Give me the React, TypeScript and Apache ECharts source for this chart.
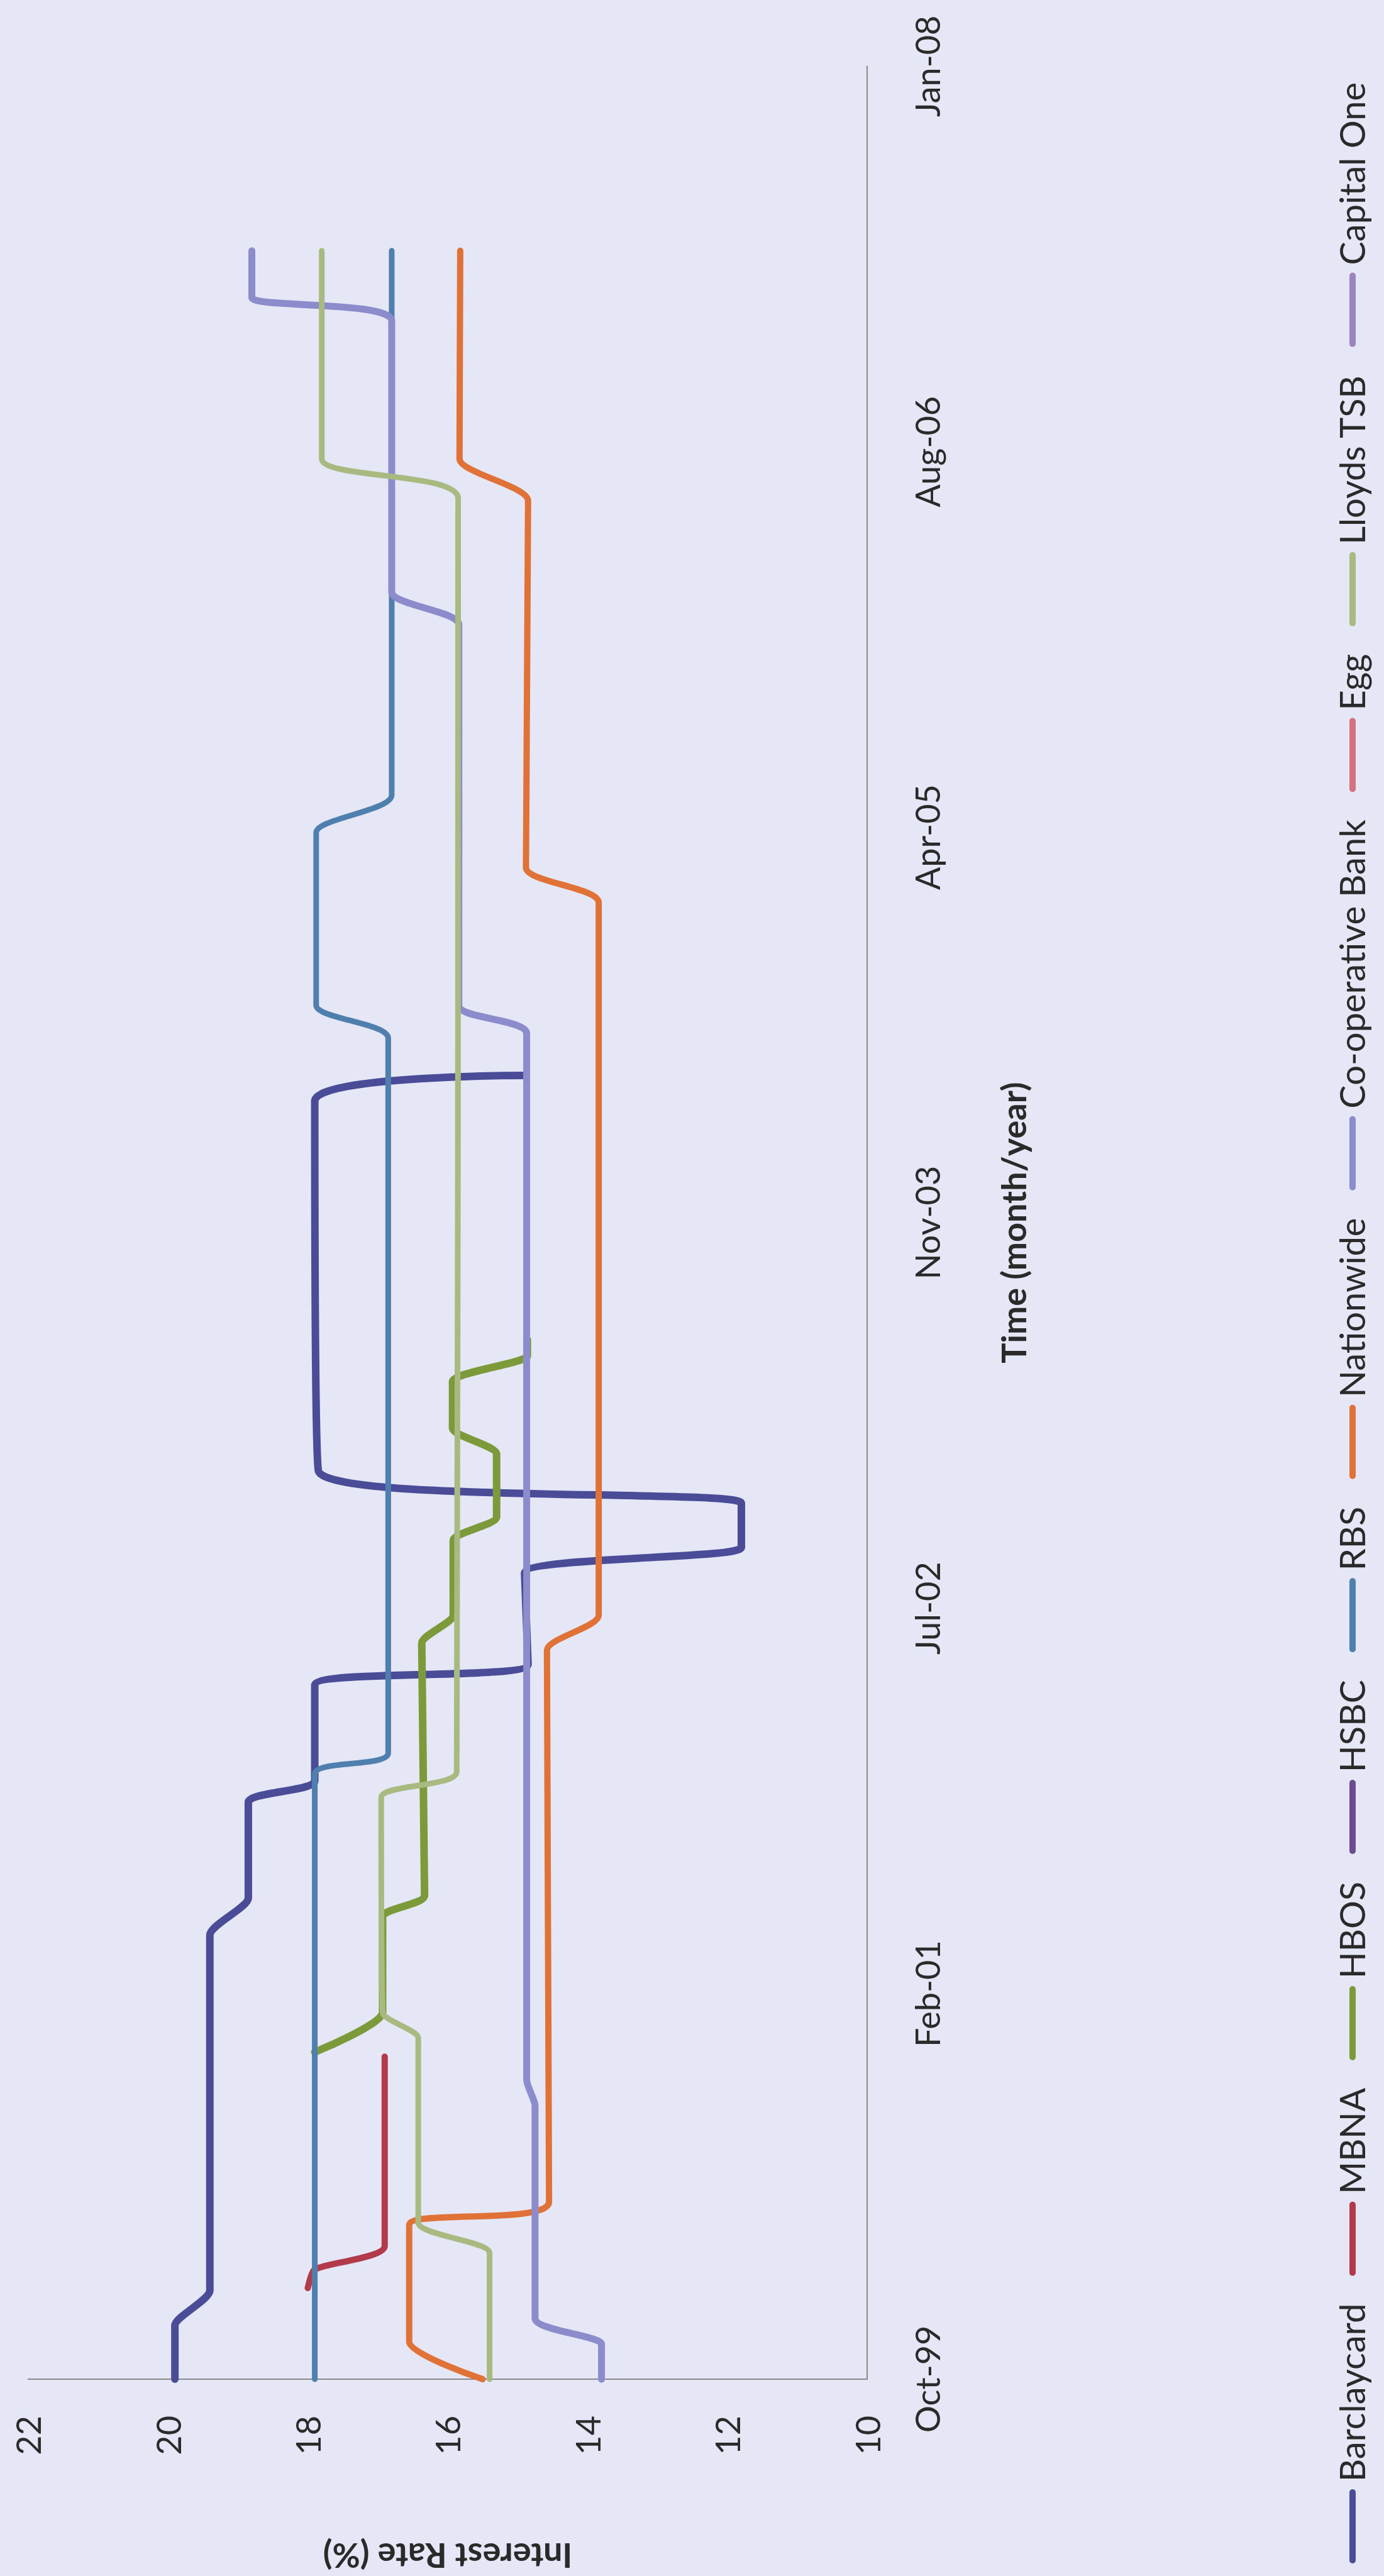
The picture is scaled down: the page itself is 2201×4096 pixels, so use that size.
import React, { useEffect, useRef } from 'react';
import * as echarts from 'echarts';

// ---------- DATA (months since Oct-1999, interest rate %) ----------
const TIME_LABELS = ['Oct-99', 'Feb-01', 'Jul-02', 'Nov-03', 'Apr-05', 'Aug-06', 'Jan-08'];
const RATE_MIN = 10;
const RATE_MAX = 22;
const RATE_STEP = 2;
const TIME_MAX = 99;
const TIME_STEP = 16.5;

const SERIES_NAMES = [
  'Barclaycard', 'MBNA', 'HBOS', 'HSBC', 'RBS', 'Nationwide',
  'Co-operative Bank', 'Egg', 'Lloyds TSB', 'Capital One',
];

const barclaycard = [
  [0, 19.9], [2.3, 19.9], [3.8, 19.4], [19.0, 19.4], [20.6, 18.85], [24.7, 18.85],
  [25.6, 17.9], [29.7, 17.9], [30.6, 14.85], [34.5, 14.9], [35.6, 11.8], [37.5, 11.8],
  [38.9, 17.85], [54.7, 17.9], [55.8, 14.9],
];
const mbna = [[3.9, 18.0], [4.7, 17.9], [5.7, 16.9], [13.8, 16.9]];
const hbos = [
  [14.0, 17.9], [15.7, 16.93], [19.8, 16.93], [20.7, 16.33], [31.5, 16.37], [32.7, 15.92],
  [35.9, 15.92], [36.9, 15.3], [39.6, 15.3], [40.7, 15.93], [42.7, 15.93], [43.8, 14.86],
  [44.5, 14.86],
];
const hsbc = [];
const rbs = [
  [0, 17.9], [25.9, 17.9], [26.8, 16.85], [57.4, 16.85], [58.8, 17.88], [66.2, 17.88],
  [67.8, 16.8], [91.1, 16.8],
];
const nationwide = [
  [0, 15.5], [1.6, 16.55], [6.6, 16.55], [7.6, 14.55], [31.2, 14.58], [32.7, 13.84],
  [63.2, 13.84], [64.7, 14.88], [80.4, 14.85], [82.2, 15.83], [91.1, 15.82],
];
const coop = [
  [0, 13.8], [1.5, 13.8], [2.6, 14.75], [11.7, 14.75], [12.8, 14.87], [57.6, 14.87],
  [58.8, 15.84], [75.1, 15.84], [76.5, 16.8], [88.1, 16.8], [89.1, 18.8], [91.1, 18.8],
];
const egg = [];
const lloyds = [
  [0, 15.4], [5.4, 15.4], [6.7, 16.42], [14.6, 16.42], [15.7, 16.93], [24.9, 16.95],
  [26.0, 15.87], [80.5, 15.85], [82.2, 17.8], [91.1, 17.8],
];
const capitalOne = [];

const SERIES_DATA = [barclaycard, mbna, hbos, hsbc, rbs, nationwide, coop, egg, lloyds, capitalOne];

// ---------- STYLE ----------
const COLORS = [
  '#4A4C98', '#B23A4A', '#7D9A3A', '#6E4A90', '#4F7FAE', '#E07238',
  '#8C8BCB', '#D4707F', '#A9BA80', '#9C84BE',
];
const WIDTHS = [12, 10, 12, 10, 9, 10, 11, 10, 9, 10];
const BG = '#E5E7F7';
const TEXT = '#2a2a2a';
const FONT = 'Lato, "Open Sans", sans-serif';

const W = 2201;
const H = 4096;

export default function App() {
  const ref = useRef<HTMLDivElement>(null);

  useEffect(() => {
    document.body.style.margin = '0';
    document.body.style.background = BG;
    const chart = echarts.init(ref.current!, null, { renderer: 'svg', width: W, height: H });

    // legend built as rotated graphic items (chart is turned 90 degrees)
    const LEG_SIZE = 56;
    const cv = document.createElement('canvas').getContext('2d')!;
    cv.font = `${LEG_SIZE}px Lato`;
    const tw = SERIES_NAMES.map((n) => cv.measureText(n).width);
    const LINE_LEN = 118;
    const TXT_GAP = 12;
    const LEG_BOTTOM = 4076;
    const LEG_TOP = 131;
    const fixed = SERIES_NAMES.length * (LINE_LEN + TXT_GAP) + tw.reduce((a, b) => a + b, 0);
    const itemGap = (LEG_BOTTOM - LEG_TOP - fixed) / (SERIES_NAMES.length - 1);
    const LX = 2151;
    const legendEls: any[] = [];
    let y = LEG_BOTTOM;
    SERIES_NAMES.forEach((name, i) => {
      legendEls.push({
        type: 'line',
        shape: { x1: LX, y1: y - 5, x2: LX, y2: y - LINE_LEN + 5 },
        style: { stroke: COLORS[i], lineWidth: 10, lineCap: 'round' },
      });
      y -= LINE_LEN + TXT_GAP;
      legendEls.push({
        type: 'text',
        x: LX - 2,
        y,
        rotation: Math.PI / 2,
        style: {
          text: name,
          fontSize: LEG_SIZE,
          fontFamily: FONT,
          fill: TEXT,
          textAlign: 'left',
          textVerticalAlign: 'middle',
          align: 'left',
          verticalAlign: 'middle',
        },
      });
      y -= tw[i] + itemGap;
    });

    chart.setOption({
      animation: false,
      backgroundColor: BG,
      textStyle: { fontFamily: FONT },
      grid: { left: 44.6, right: 821.8, top: 105.3, bottom: 265.5, containLabel: false },
      xAxis: {
        type: 'value',
        min: RATE_MIN,
        max: RATE_MAX,
        interval: RATE_STEP,
        inverse: true,
        position: 'bottom',
        axisLine: { show: true, onZero: false, lineStyle: { color: '#8a8a8a', width: 2 } },
        axisTick: { show: false },
        splitLine: { show: false },
        axisLabel: {
          rotate: 90,
          margin: 58,
          fontSize: 54,
          color: TEXT,
          fontFamily: FONT,
          hideOverlap: false,
          showMinLabel: true,
          showMaxLabel: true,
        },
        name: 'Interest Rate (%)',
        nameLocation: 'middle',
        nameRotate: 180,
        nameGap: 254,
        nameMoveOverlap: false,
        nameTextStyle: { fontSize: 54, fontWeight: 'bold', color: TEXT, fontFamily: FONT },
      },
      yAxis: {
        type: 'value',
        min: 0,
        max: TIME_MAX,
        interval: TIME_STEP,
        position: 'right',
        axisLine: { show: true, onZero: false, lineStyle: { color: '#8a8a8a', width: 2 } },
        axisTick: { show: false },
        splitLine: { show: false },
        axisLabel: {
          rotate: 90,
          margin: 68,
          fontSize: 54,
          color: TEXT,
          fontFamily: FONT,
          hideOverlap: false,
          showMinLabel: true,
          showMaxLabel: true,
          formatter: (v: number) => TIME_LABELS[Math.round(v / TIME_STEP)] ?? '',
        },
        name: 'Time (month/year)',
        nameLocation: 'middle',
        nameRotate: 90,
        nameGap: 205,
        nameMoveOverlap: false,
        nameTextStyle: { fontSize: 54, fontWeight: 'bold', color: TEXT, fontFamily: FONT },
      },
      series: SERIES_NAMES.map((name, i) => ({
        name,
        type: 'line',
        data: SERIES_DATA[i].map(([m, r]) => [r, m]),
        showSymbol: false,
        symbol: 'none',
        smooth: 0.2,
        clip: false,
        lineStyle: { color: COLORS[i], width: WIDTHS[i], cap: 'round', join: 'round' },
        itemStyle: { color: COLORS[i] },
        z: 2 + i,
      })),
      graphic: legendEls,
    });

    return () => chart.dispose();
  }, []);

  return (
    <div
      ref={ref}
      style={{ position: 'absolute', left: 0, top: 0, width: W, height: H, background: BG }}
    />
  );
}
